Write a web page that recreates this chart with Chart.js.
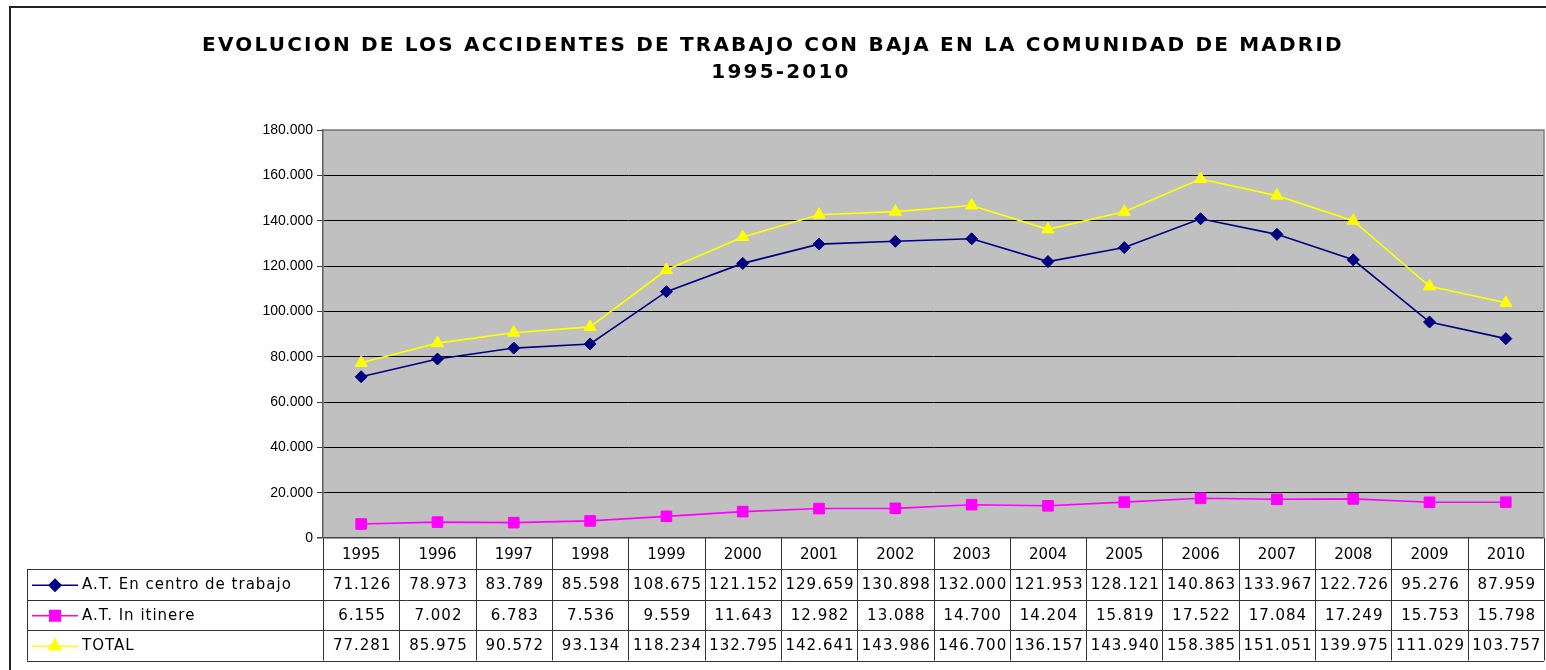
<!DOCTYPE html>
<html>
<head>
<meta charset="utf-8">
<script src="https://cdn.jsdelivr.net/npm/chart.js@4.4.0/dist/chart.umd.min.js"></script>
<style>
  html, body { margin: 0; background: #fff; overflow: hidden; }
  #accChart { display: block; }
</style>
</head>
<body>
<canvas id="accChart" width="1546" height="670"></canvas>
<script>
const years = ["1995", "1996", "1997", "1998", "1999", "2000", "2001", "2002",
               "2003", "2004", "2005", "2006", "2007", "2008", "2009", "2010"];
const centroTrabajo = [71126, 78973, 83789, 85598, 108675, 121152, 129659, 130898,
                       132000, 121953, 128121, 140863, 133967, 122726, 95276, 87959];
const inItinere = [6155, 7002, 6783, 7536, 9559, 11643, 12982, 13088,
                   14700, 14204, 15819, 17522, 17084, 17249, 15753, 15798];
const total = [77281, 85975, 90572, 93134, 118234, 132795, 142641, 143986,
               146700, 136157, 143940, 158385, 151051, 139975, 111029, 103757];
const seriesNames = ["A.T. En centro de trabajo", "A.T. In itinere", "TOTAL"];
const titleLines = ["EVOLUCION DE LOS ACCIDENTES DE TRABAJO CON BAJA EN LA COMUNIDAD DE MADRID", "1995-2010"];

// separador de miles con punto
function fmt(v) {
  return String(v).replace(/\B(?=(\d{3})+(?!\d))/g, ".");
}

const tableFont = "15px 'DejaVu Sans'";
const rowH = 30.5;

// fondo gris, marco y titulo
const frame = {
  id: "frame",
  beforeDraw(chart) {
    const ctx = chart.ctx, a = chart.chartArea;
    ctx.save();
    ctx.fillStyle = "#fff";
    ctx.fillRect(0, 0, chart.width, chart.height);
    ctx.fillStyle = "#c0c0c0";
    ctx.fillRect(a.left, a.top, a.right - a.left, a.bottom - a.top);
    // borde exterior
    ctx.strokeStyle = "#222";
    ctx.lineWidth = 2;
    ctx.beginPath();
    ctx.moveTo(10, chart.height + 5);
    ctx.lineTo(10, 7);
    ctx.lineTo(chart.width + 5, 7);
    ctx.stroke();
    // titulo
    ctx.fillStyle = "#000";
    ctx.textAlign = "center";
    ctx.textBaseline = "alphabetic";
    ctx.font = "bold 20px 'DejaVu Sans'";
    ctx.letterSpacing = "2.2px";
    ctx.fillText(titleLines[0], 773, 51);
    ctx.fillText(titleLines[1], 781, 78);
    ctx.restore();
  }
};

// tabla de datos bajo el grafico
const dataTable = {
  id: "dataTable",
  afterDraw(chart) {
    const ctx = chart.ctx, a = chart.chartArea, xs = chart.scales.x;
    const n = years.length;
    const colW = xs.getPixelForValue(1) - xs.getPixelForValue(0);
    const headBottom = a.bottom + 31;
    const tableBottom = headBottom + rowH * 3;
    const legLeft = 27;
    ctx.save();

    // borde del area de trazado
    ctx.strokeStyle = "#808080";
    ctx.lineWidth = 1.5;
    ctx.beginPath();
    ctx.moveTo(a.left, a.top);
    ctx.lineTo(a.right, a.top);
    ctx.lineTo(a.right, a.bottom);
    ctx.stroke();

    ctx.strokeStyle = "#333";
    ctx.lineWidth = 1;
    ctx.beginPath();
    for (let i = 0; i <= n; i++) {
      const x = Math.round(xs.getPixelForValue(i) - colW / 2) + 0.5;
      ctx.moveTo(x, a.bottom);
      ctx.lineTo(x, tableBottom);
    }
    ctx.moveTo(legLeft + 0.5, headBottom);
    ctx.lineTo(legLeft + 0.5, tableBottom);
    for (let r = 0; r <= 3; r++) {
      const y = Math.round(headBottom + r * rowH) + 0.5;
      ctx.moveTo(legLeft, y);
      ctx.lineTo(a.right, y);
    }
    ctx.stroke();

    ctx.font = tableFont;
    ctx.letterSpacing = "1px";
    ctx.textBaseline = "middle";
    chart.data.datasets.forEach((ds, r) => {
      const yMid = headBottom + r * rowH + rowH / 2 + 1;
      // muestra de la leyenda
      ctx.strokeStyle = ds.borderColor;
      ctx.lineWidth = 1.5;
      ctx.beginPath();
      ctx.moveTo(32, yMid);
      ctx.lineTo(78, yMid);
      ctx.stroke();
      ctx.fillStyle = ds.backgroundColor;
      Chart.helpers.drawPoint(ctx, {
        pointStyle: ds.pointStyle, radius: ds.pointRadius, rotation: 0, borderWidth: 1
      }, 55, yMid);
      ctx.fillStyle = "#000";
      ctx.textAlign = "left";
      ctx.fillText(ds.label, 82, yMid);
      ctx.textAlign = "center";
      ds.data.forEach((v, i) => {
        ctx.fillText(fmt(v), xs.getPixelForValue(i) + 1, yMid);
      });
    });
    ctx.restore();
  }
};

Chart.defaults.font.family = "'DejaVu Sans'";
Chart.defaults.color = "#000";

new Chart(document.getElementById("accChart"), {
  type: "line",
  data: {
    labels: years,
    datasets: [
      {
        label: seriesNames[0], data: centroTrabajo,
        borderColor: "#000080", backgroundColor: "#000080",
        pointStyle: "rectRot", pointRadius: 6, borderWidth: 1.6, pointBorderWidth: 1
      },
      {
        label: seriesNames[1], data: inItinere,
        borderColor: "#ff00ff", backgroundColor: "#ff00ff",
        pointStyle: "rect", pointRadius: 7.5, borderWidth: 1.6, pointBorderWidth: 1
      },
      {
        label: seriesNames[2], data: total,
        borderColor: "#ffff00", backgroundColor: "#ffff00",
        pointStyle: "triangle", pointRadius: 7, borderWidth: 1.6, pointBorderWidth: 1
      }
    ]
  },
  options: {
    responsive: false,
    animation: false,
    layout: { autoPadding: false, padding: { top: 130, bottom: 101, left: 0, right: 2 } },
    plugins: {
      legend: { display: false },
      tooltip: { enabled: false },
      title: { display: false }
    },
    scales: {
      x: {
        offset: true,
        grid: { display: false, drawTicks: false },
        border: { display: false },
        ticks: {
          font: { size: 15 }, padding: 8, maxRotation: 0, autoSkip: false
        },
        afterFit(scale) {
          scale.height = 31;
          scale.paddingLeft = 0;
          scale.paddingRight = 0;
        }
      },
      y: {
        min: 0, max: 180000,
        grid: {
          color: ctx => ctx.tick.value === 180000 ? "#808080" : (ctx.tick.value === 0 ? "#404040" : "#000"),
          lineWidth: ctx => ctx.tick.value === 0 ? 1.5 : 1,
          tickLength: 6, tickColor: "#404040"
        },
        border: { color: "#606060", width: 1.5 },
        ticks: {
          stepSize: 20000, padding: 4,
          font: { family: "'Liberation Sans'", size: 14 },
          callback: v => fmt(v)
        },
        afterFit(scale) { scale.width = 323; }
      }
    }
  },
  plugins: [frame, dataTable]
});
</script>
</body>
</html>
